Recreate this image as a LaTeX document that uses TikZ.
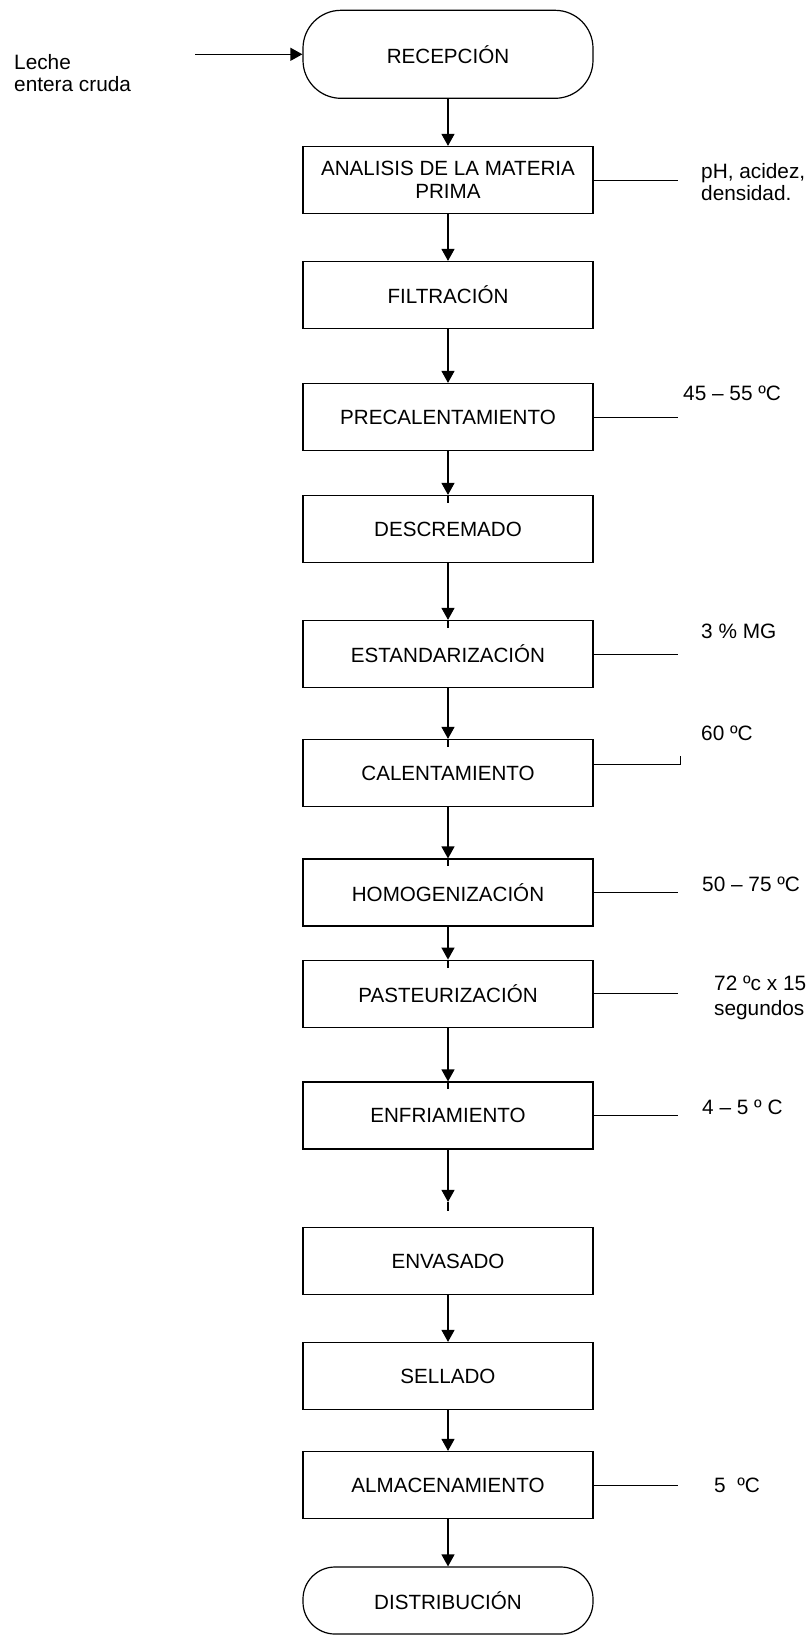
\documentclass[tikz,border=0pt]{standalone}
\usepackage{fontspec}
\setmainfont{Liberation Sans}
\usetikzlibrary{arrows.meta}
\begin{document}
\begin{tikzpicture}[x=1pt,y=-1pt,
  every node/.style={font=\fontsize{20.6}{23}\selectfont},
  stepbox/.style={draw,line width=1.2pt,minimum width=290pt,minimum height=67pt,inner sep=0pt,align=center},
  termbox/.style={stepbox,rounded corners=32pt},
  lbl/.style={anchor=west,inner sep=0pt,align=left,font=\fontsize{20.8}{22}\selectfont},
  arr/.style={line width=1.2pt,-{Triangle[length=12pt,width=13pt]}},
  tail/.style={line width=1.2pt},
  side/.style={line width=1pt}]
\useasboundingbox (0,0) rectangle (810,1641);
% boxes
\node[termbox,minimum height=88pt,rounded corners=38pt] (rec) at (448,54.3) {RECEPCIÓN};
\node[stepbox] (ana) at (448,180) {ANALISIS DE LA MATERIA\\PRIMA};
\node[stepbox] (fil) at (448,295) {FILTRACIÓN};
\node[stepbox] (pre) at (448,417) {PRECALENTAMIENTO};
\node[stepbox] (des) at (448,529) {DESCREMADO};
\node[stepbox] (est) at (448,654) {ESTANDARIZACIÓN};
\node[stepbox] (cal) at (448,773) {CALENTAMIENTO};
\node[stepbox] (hom) at (448,892.5) {HOMOGENIZACIÓN};
\node[stepbox] (pas) at (448,993.7) {PASTEURIZACIÓN};
\node[stepbox] (enf) at (448,1115.5) {ENFRIAMIENTO};
\node[stepbox] (env) at (448,1261) {ENVASADO};
\node[stepbox] (sel) at (448,1376) {SELLADO};
\node[stepbox] (alm) at (448,1485) {ALMACENAMIENTO};
\node[termbox] (dis) at (448,1600.5) {DISTRIBUCIÓN};
% labels
\node[lbl] (leche) at (14,73) {Leche\\entera cruda};
\node[lbl] (lph) at (701,182.5) {pH, acidez,\\densidad.};
\node[lbl] (lpre) at (683,393.7) {45 – 55 ºC};
\node[lbl] (lest) at (701,631) {3 \% MG};
\node[lbl] (lcal) at (701,733) {60 ºC};
\node[lbl] (lhom) at (702,884) {50 – 75 ºC};
\node[lbl,font=\fontsize{20.8}{25}\selectfont] (lpas) at (714,998) {72 ºc x 15\\segundos};
\node[lbl] (lenf) at (702,1107) {4 – 5 º C};
\node[lbl] (lalm) at (714,1485) {5~~ºC};
% input
\coordinate (in) at (195,54.3);
\draw[arr] (in) -- (rec.west);
% flow arrows
\draw[arr] (rec.south) -- (ana.north);
\draw[arr] (ana.south) -- (fil.north);
\draw[arr] (fil.south) -- (pre.north);
\draw[arr] (pre.south) -- (des.north);
\draw[tail] (des.north) -- ++(0,8);
\draw[arr] (des.south) -- (est.north);
\draw[tail] (est.north) -- ++(0,8);
\draw[arr] (est.south) -- (cal.north);
\draw[tail] (cal.north) -- ++(0,8);
\draw[arr] (cal.south) -- (hom.north);
\draw[tail] (hom.north) -- ++(0,8);
\draw[arr] (hom.south) -- (pas.north);
\draw[tail] (pas.north) -- ++(0,8);
\draw[arr] (pas.south) -- (enf.north);
\draw[tail] (enf.north) -- ++(0,8);
\coordinate (tipenv) at ([yshift=25pt]env.north);
\draw[arr] (enf.south) -- (tipenv);
\draw[tail] (tipenv) -- ++(0,9);
\draw[arr] (env.south) -- (sel.north);
\draw[arr] (sel.south) -- (alm.north);
\draw[arr] (alm.south) -- (dis.north);
% side lines
\draw[side] (ana.east) -- (ana.east -| 678,0);
\draw[side] (pre.east) -- (pre.east -| 678,0);
\draw[side] (est.east) -- (est.east -| 678,0);
\coordinate (calend) at (680,764);
\draw[side] (cal.east |- calend) -- (calend) -- ++(0,-8);
\draw[side] (hom.east) -- (hom.east -| 678,0);
\draw[side] (pas.east) -- (pas.east -| 678,0);
\draw[side] (enf.east) -- (enf.east -| 678,0);
\draw[side] (alm.east) -- (alm.east -| 678,0);
\end{tikzpicture}
\end{document}
